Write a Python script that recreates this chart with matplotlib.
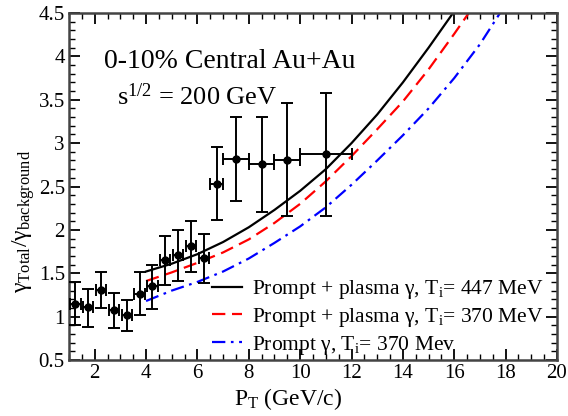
import numpy as np
import matplotlib
matplotlib.use("Agg")
import matplotlib.pyplot as plt
from matplotlib.ticker import MultipleLocator, FormatStrFormatter

plt.rcParams["font.family"] = ["Liberation Serif", "DejaVu Serif"]
plt.rcParams["mathtext.fontset"] = "custom"
plt.rcParams["mathtext.rm"] = "Liberation Serif"
plt.rcParams["mathtext.it"] = "Liberation Serif:italic"

# measured ratio points
pt_data = [1.25, 1.75, 2.25, 2.75, 3.25, 3.75, 4.25, 4.75, 5.25, 5.75, 6.25,
           6.75, 7.5, 8.5, 9.5, 11.0]
ratio = [1.15, 1.11, 1.31, 1.08, 1.02, 1.26, 1.35, 1.65, 1.71, 1.81, 1.68,
         2.53, 2.82, 2.76, 2.81, 2.87]
ratio_lo = [0.90, 0.88, 1.10, 0.87, 0.83, 1.02, 1.09, 1.36, 1.41, 1.51, 1.39,
            2.11, 2.33, 2.21, 2.16, 2.16]
ratio_hi = [1.40, 1.32, 1.51, 1.27, 1.19, 1.51, 1.60, 1.93, 2.00, 2.10, 1.95,
            2.95, 3.30, 3.30, 3.46, 3.58]
pt_err = [0.2] * 11 + [0.25, 0.5, 0.5, 0.5, 1.0]

# model curves
pt_447 = [4, 5, 6, 7, 8, 9, 10, 11, 12, 13, 14, 15, 16, 16.2]
r_447 = [1.52, 1.61, 1.72, 1.86, 2.03, 2.23, 2.45, 2.70, 3.00, 3.33, 3.70, 4.10, 4.52, 4.60]
pt_370 = [4, 5, 6, 7, 8, 9, 10, 11, 12, 13, 14, 15, 16, 16.8]
r_370 = [1.41, 1.51, 1.62, 1.74, 1.89, 2.08, 2.30, 2.56, 2.85, 3.16, 3.48, 3.85, 4.26, 4.60]
pt_prompt = [4, 5, 6, 7, 8, 9, 10, 11, 12, 13, 14, 15, 16, 17, 18]
r_prompt = [1.18, 1.30, 1.40, 1.52, 1.67, 1.85, 2.04, 2.26, 2.52, 2.80, 3.09, 3.40, 3.75, 4.14, 4.60]

fig = plt.figure(figsize=(5.68, 4.16), dpi=100)
ax = fig.add_axes([69 / 568, 56 / 416, 488 / 568, 347 / 416])

ax.plot(pt_447, r_447, color="black", lw=1.6,
        label=r"Prompt + plasma γ, T$_\mathrm{i}$= 447 MeV")
ax.plot(pt_370, r_370, color="red", lw=1.6, ls=(0, (6, 3)),
        label=r"Prompt + plasma γ, T$_\mathrm{i}$= 370 MeV")
ax.plot(pt_prompt, r_prompt, color="blue", lw=1.6, ls=(0, (6, 2.5, 1.2, 2.5)),
        label=r"Prompt γ, T$_\mathrm{i}$= 370 Mev")

y = np.array(ratio)
yerr = [y - np.array(ratio_lo), np.array(ratio_hi) - y]
ax.errorbar(pt_data, ratio, xerr=pt_err, yerr=yerr, fmt="o", color="black",
            ms=5, elinewidth=1.4, capsize=4, capthick=1.4, zorder=5)

ax.set_xlim(1, 20)
ax.set_ylim(0.5, 4.5)
ax.xaxis.set_major_locator(MultipleLocator(2))
ax.xaxis.set_minor_locator(MultipleLocator(0.5))
ax.yaxis.set_major_locator(MultipleLocator(0.5))
ax.yaxis.set_minor_locator(MultipleLocator(0.1))
ax.yaxis.set_major_formatter(FormatStrFormatter("%g"))
ax.tick_params(which="both", direction="in", top=True, right=True,
               labelsize=15, pad=3, color="black")
ax.tick_params(which="major", length=8, width=1.3)
ax.tick_params(which="minor", length=4, width=1.0)
for s in ax.spines.values():
    s.set_linewidth(1.8)
    s.set_color("#444444")

ax.set_xlabel(r"P$_\mathrm{T}$ (GeV/c)", fontsize=17, labelpad=0)
ax.xaxis.set_label_coords(0.449, -0.075)
ax.set_ylabel(r"γ$_\mathrm{Total}$/γ$_\mathrm{background}$", fontsize=17)
ax.yaxis.set_label_coords(-0.066, 0.40)

ax.text(0.072, 0.842, "0-10% Central Au+Au", transform=ax.transAxes, fontsize=20)
ax.text(0.098, 0.735, r"s$^{1/2}$ = 200 GeV", transform=ax.transAxes, fontsize=19)

ax.legend(loc="lower right", fontsize=15.5, frameon=False, handlelength=1.4,
          handletextpad=0.45, labelspacing=0.22, borderaxespad=0.0,
          bbox_to_anchor=(0.99, -0.015))

fig.savefig("out.png", dpi=100)
